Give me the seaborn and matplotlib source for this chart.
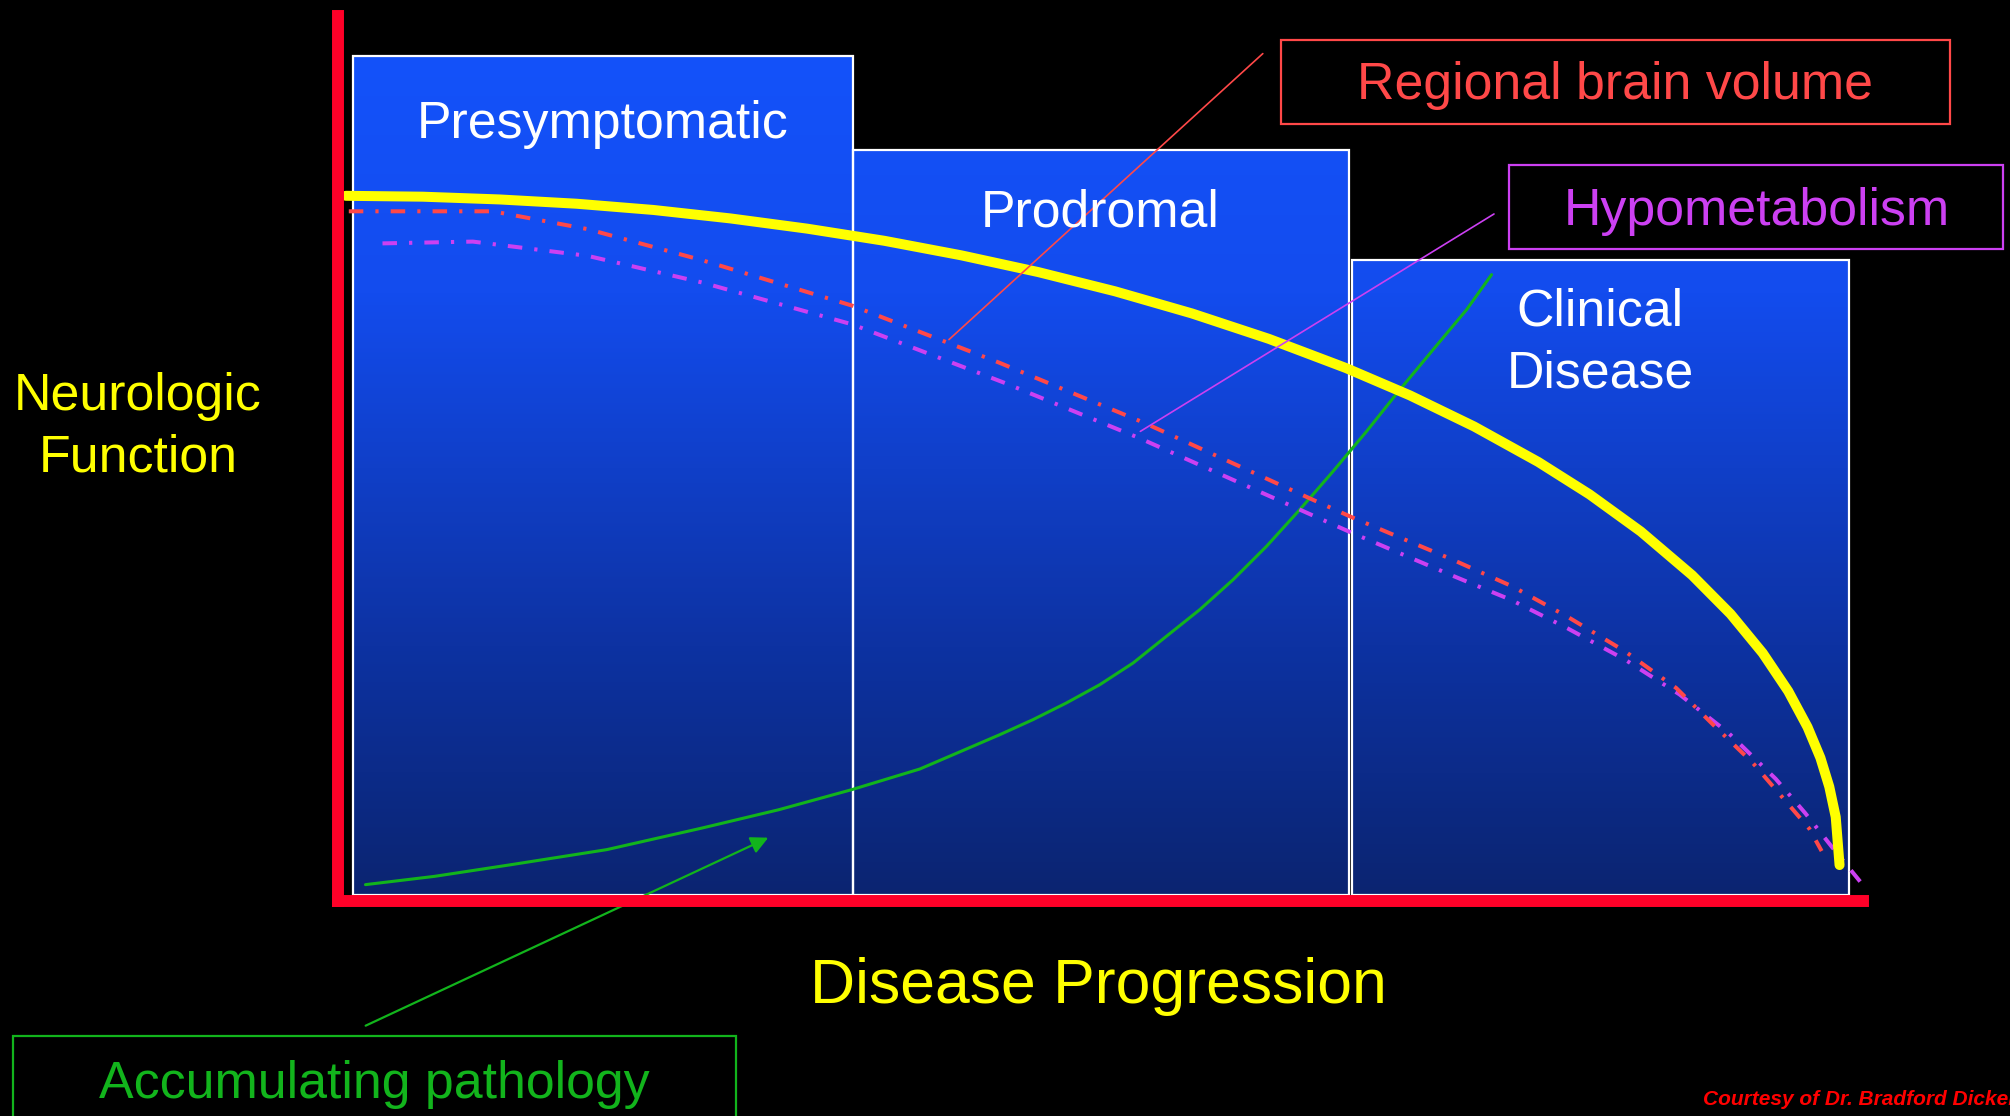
import numpy as np
import matplotlib.pyplot as plt
import seaborn as sns
from matplotlib.colors import LinearSegmentedColormap
from matplotlib.patches import Rectangle

# stages (x in % of disease progression, y in % of neurologic function)
stage_names = ['Presymptomatic', 'Prodromal', 'Clinical\nDisease']
stage_start = [1.0, 33.6, 66.2]
stage_end = [33.6, 66.0, 98.7]
stage_top = [94.8, 84.3, 71.9]
stage_bottom = 0.7

# neurologic function (yellow)
function_x = [0.5, 5.53, 10.55, 15.58, 20.6, 25.63, 30.65, 35.68, 40.7, 45.73, 50.75,
              55.78, 60.8, 65.83, 70.02, 74.2, 78.39, 81.74, 85.09, 88.44, 90.95, 93.05,
              94.72, 95.98, 96.82, 97.4, 97.82, 98.07]
function_y = [79.14, 79.04, 78.73, 78.25, 77.55, 76.6, 75.45, 74.09, 72.46, 70.58, 68.42,
              65.93, 63.08, 59.81, 56.73, 53.25, 49.27, 45.63, 41.46, 36.56, 32.21, 27.82,
              23.54, 19.51, 16.06, 12.81, 9.42, 4.03]

# regional brain volume (red dash-dot)
volume_x = [0.7, 10.1, 16.3, 23.8, 33.6, 43.2, 52.6, 63.7, 66.3, 72.8, 76.7, 80.3,
            84.07, 87.4, 89.8, 92.4, 94.3, 96.1, 96.9]
volume_y = [77.4, 77.4, 75.4, 71.9, 66.8, 60.4, 53.7, 45.0, 43.0, 38.3, 35.3, 31.9,
            28.0, 23.9, 19.8, 15.5, 11.7, 8.1, 5.6]

# hypometabolism (purple dash-dot)
metab_x = [2.9, 8.8, 16.3, 23.8, 33.6, 43.6, 52.4, 66.1, 72.8, 76.6, 80.3, 84.07,
           87.6, 90.82, 93.9, 95.82, 97.6, 99.5]
metab_y = [73.8, 74.0, 72.4, 69.4, 64.7, 58.1, 51.9, 41.4, 36.5, 33.8, 30.6, 27.07,
           23.2, 18.85, 13.7, 9.87, 6.0, 2.0]

# accumulating pathology (green)
pathology_x = [1.79, 6.3, 11.3, 17.55, 23.79, 28.79, 33.55, 38.0, 43.22, 45.39, 47.57,
               49.75, 51.93, 54.1, 56.28, 58.46, 60.64, 62.81, 64.99, 67.18, 69.35,
               71.52, 73.71, 75.34]
pathology_y = [1.83, 2.76, 4.07, 5.76, 8.19, 10.24, 12.49, 14.81, 18.66, 20.35, 22.22,
               24.27, 26.71, 29.7, 32.69, 36.06, 39.8, 43.91, 48.22, 52.71, 57.38,
               61.87, 66.36, 70.29]

sns.set_theme(style='dark', rc={'axes.facecolor': 'black', 'figure.facecolor': 'black'})
plt.rcParams['font.family'] = ['Liberation Sans', 'DejaVu Sans']

YELLOW = '#FFFF00'
RED_AXIS = '#FF0028'
RED = '#FF4848'
PURPLE = '#CC40F2'
GREEN = '#12B41C'

fig = plt.figure(figsize=(20.1, 11.16), dpi=100)
ax = fig.add_axes([0.1682, 0.1927, 0.7617, 0.7984])

# stage boxes with blue gradient
cmap = LinearSegmentedColormap.from_list(
    'stage', [(0, '#0B2470'), (0.3, '#0D32A2'), (0.72, '#134CEE'), (1, '#1452FA')])
bars = ax.bar(stage_start, np.array(stage_top) - stage_bottom,
              width=np.array(stage_end) - np.array(stage_start), bottom=stage_bottom,
              align='edge', facecolor='none', edgecolor='white', linewidth=1.6, zorder=1.5)
for b, x0, x1, top in zip(bars, stage_start, stage_end, stage_top):
    yy = np.linspace(stage_bottom, top, 300).reshape(-1, 1)
    im = ax.imshow(yy, extent=(x0, x1, stage_bottom, top), origin='lower', cmap=cmap,
                   vmin=0, vmax=95, aspect='auto', zorder=1)
    im.set_clip_path(b)

# label offsets below each box top
for name, x0, x1, top, off in zip(stage_names, stage_start, stage_end, stage_top,
                                  [4.9, 4.3, 3.1]):
    ax.text((x0 + x1) / 2, top - off, name, color='white', fontsize=37.4,
            ha='center', va='top', linespacing=1.32, zorder=4)

# curves
sns.lineplot(x=pathology_x, y=pathology_y, ax=ax, color=GREEN, linewidth=2.2,
             sort=False, estimator=None, zorder=3)
sns.lineplot(x=metab_x, y=metab_y, ax=ax, color=PURPLE, linewidth=2.9,
             linestyle=(0, (3.6, 3.0, 0.8, 3.0)), sort=False, estimator=None, zorder=3)
sns.lineplot(x=volume_x, y=volume_y, ax=ax, color=RED, linewidth=2.9,
             linestyle=(0, (3.6, 3.0, 0.8, 3.0)), sort=False, estimator=None, zorder=3)
sns.lineplot(x=function_x, y=function_y, ax=ax, color=YELLOW, linewidth=7.2,
             sort=False, estimator=None, zorder=3.5, solid_capstyle='round',
             solid_joinstyle='round')

# leader lines
ax.plot([39.9, 60.4], [63.0, 95.1], color=RED, linewidth=1.2, zorder=3.6, clip_on=False)
ax.plot([52.4, 75.5], [52.7, 77.1], color=PURPLE, linewidth=1.2, zorder=3.6, clip_on=False)
ax.annotate('', xy=(28.1, 7.1), xytext=(1.8, -14.0), annotation_clip=False,
            arrowprops=dict(arrowstyle='-|>', color=GREEN, lw=1.6, mutation_scale=26,
                            shrinkA=0, shrinkB=0), zorder=3.6)

ax.set_xlim(0, 100)
ax.set_ylim(0, 100)
ax.set_xticks([])
ax.set_yticks([])
for side in ['top', 'right']:
    ax.spines[side].set_visible(False)
for side in ['left', 'bottom']:
    ax.spines[side].set_color(RED_AXIS)
    ax.spines[side].set_linewidth(8.6)
    ax.spines[side].set_zorder(5)
ax.spines['left'].set_bounds(0, 99.3)
ax.spines['bottom'].set_bounds(0, 99.6)
ax.set_facecolor('black')

# axis titles
fig.text(0.0687, 0.6174, 'Neurologic\nFunction', color=YELLOW, fontsize=37.4,
         ha='center', va='center', linespacing=1.32)
fig.text(0.5466, 0.1156, 'Disease Progression', color=YELLOW, fontsize=45,
         ha='center', va='center')

# label boxes
fig.add_artist(Rectangle((0.6373, 0.8889), 0.3328, 0.0753, transform=fig.transFigure,
                         facecolor='none', edgecolor=RED, linewidth=1.6))
fig.text(0.8036, 0.9231, 'Regional brain volume', color=RED, fontsize=37.4,
         ha='center', va='center')
fig.add_artist(Rectangle((0.7507, 0.7769), 0.2458, 0.0753, transform=fig.transFigure,
                         facecolor='none', edgecolor=PURPLE, linewidth=1.6))
fig.text(0.8738, 0.8102, 'Hypometabolism', color=PURPLE, fontsize=37.4,
         ha='center', va='center')
fig.add_artist(Rectangle((0.0065, -0.02), 0.3597, 0.0917, transform=fig.transFigure,
                         facecolor='none', edgecolor=GREEN, linewidth=1.6))
fig.text(0.1862, 0.0284, 'Accumulating pathology', color=GREEN, fontsize=37.4,
         ha='center', va='center')

fig.text(0.8473, 0.0147, 'Courtesy of Dr. Bradford Dickerson', color='#FF0000',
         fontsize=15, fontweight='bold', fontstyle='italic', ha='left', va='center')

fig.savefig('out.png', dpi=100, facecolor='black')
